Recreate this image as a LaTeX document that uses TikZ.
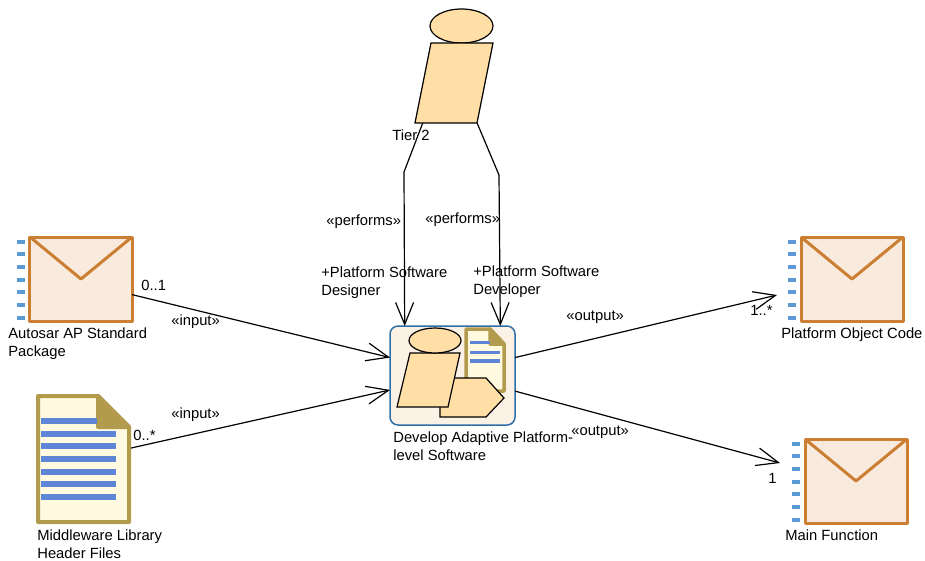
\documentclass[tikz,border=0pt]{standalone}
\usepackage{fontspec}
\setmainfont{Liberation Sans}
\usetikzlibrary{arrows.meta,shapes.geometric}
\definecolor{msgline}{HTML}{CC7F33}
\definecolor{msgfill}{HTML}{F8EADD}
\definecolor{dashblue}{HTML}{5B9BD5}
\definecolor{docline}{HTML}{B39B4E}
\definecolor{docfill}{HTML}{FFFAE0}
\definecolor{textblue}{HTML}{5F85D6}
\definecolor{actorfill}{HTML}{FFDFA6}
\definecolor{taskline}{HTML}{2F6FA8}
\definecolor{taskfill}{HTML}{FBF1E5}
\tikzset{
	lbl/.style={font=\fontsize{8.4}{10.2}\selectfont, inner sep=0pt, align=left, anchor=west},
	msgbox/.style={draw=msgline, fill=msgfill, line width=0.6mm, line join=round, minimum width=20.4mm, minimum height=16.8mm, inner sep=0pt, outer sep=0pt},
	actorpart/.style={draw=black, fill=actorfill, line width=0.24mm, inner sep=0pt, outer sep=0pt},
	flow/.style={line width=0.24mm, -{Straight Barb[length=4.4mm,width=3.6mm,line width=0.24mm]}},
	plainline/.style={line width=0.24mm},
}
\begin{document}
\begin{tikzpicture}[x=0.2mm,y=-0.2mm]
	\useasboundingbox (0,0) rectangle (925,560);

	% work products
	\foreach \nm/\cx/\cy/\dx in {autosar/81/279/17, object/852/279/788, mainfn/856/481/792}{
		\foreach \k in {-37,-25,-12,1,13,26,39}
			\draw[dashblue, line width=0.7mm] (\dx,\cy+\k) -- (\dx+8,\cy+\k);
		\node[msgbox] (\nm) at (\cx,\cy) {};
		\draw[msgline, line width=0.6mm, line join=round] (\nm.north west) -- (\nm.center) -- (\nm.north east);
	}

	% header files
	\node[minimum width=19mm, minimum height=26mm, inner sep=0pt, outer sep=0pt] (middleware) at (83.5,459) {};
	\draw[docline, fill=docfill, line width=0.8mm, line join=round] (38,396) -- (98,396) -- (129,427) -- (129,522) -- (38,522) -- cycle;
	\draw[docline, fill=docline, line width=0.8mm, line join=round] (98,396) -- (129,427) -- (98,427) -- cycle;
	\draw[textblue, line width=1.1mm] (41,421) -- (97,421);
	\foreach \y in {434,446,459,472,484,497}
		\draw[textblue, line width=1.1mm] (41,\y) -- (116,\y);

	% task
	\node[draw=taskline, fill=taskfill, line width=0.3mm, rounded corners=1.6mm, minimum width=25mm, minimum height=19.8mm, inner sep=0pt, outer sep=0pt] (task) at (452.5,375.5) {};
	\draw[docline, fill=docfill, line width=0.7mm, line join=round] (466,329) -- (490,329) -- (504,344) -- (504,391) -- (466,391) -- cycle;
	\draw[docline, fill=docline, line width=0.7mm, line join=round] (490,329) -- (504,344) -- (490,344) -- cycle;
	\draw[textblue, line width=0.6mm] (470,342) -- (490,342);
	\draw[textblue, line width=0.6mm] (470,352) -- (500,352);
	\draw[textblue, line width=0.8mm] (470,361) -- (500,361);
	\draw[actorpart] (440,378) -- (486,378) -- (504,398) -- (486,417) -- (440,417) -- cycle;
	\draw[actorpart] (410,353) -- (460,353) -- (448,407) -- (397,407) -- cycle;
	\node[actorpart, ellipse, minimum width=10.4mm, minimum height=5mm] (taskhead) at (435,340.5) {};

	% actor
	\node[actorpart, ellipse, minimum width=12.6mm, minimum height=6.8mm] (tierhead) at (461.5,26) {};
	\node[minimum width=15.6mm, minimum height=16mm, inner sep=0pt, outer sep=0pt] (tierbody) at (454,83) {};
	\draw[actorpart] (431,43) -- (493,43) -- (477,123) -- (415,123) -- cycle;

	\coordinate (leftbend) at (404,172);
	\coordinate (rightbend) at (499,175);
	\coordinate (objectin) at (777,295);
	\coordinate (mainin) at (780,463);

	\draw[plainline] (tierbody.232) -- (leftbend);
	\draw[plainline] (tierbody.-60) -- (rightbend);
	\draw[flow] (leftbend) -- (task.134.4);
	\draw[flow] (rightbend) -- (task.46.8);
	\draw[flow] (autosar.-17) -- (task.164.4);
	\draw[flow] (middleware.13) -- (task.193);
	\draw[flow] (task.16.5) -- (objectin);
	\draw[flow] (task.-14) -- (mainin);

	\node[lbl] (tierlabel) at (392,135) {Tier 2};
	\node[lbl] (perfa) at (326,222) {«performs»};
	\node[lbl] (perfb) at (425,220) {«performs»};
	\node[lbl] (designer) at (321,282.5) {+Platform Software\\Designer};
	\node[lbl] (developer) at (473,281.5) {+Platform Software\\Developer};
	\node[lbl] (autosarlabel) at (8,344) {Autosar AP Standard\\Package};
	\node[lbl] (middlewarelabel) at (37,544) {Middleware Library\\Header Files};
	\node[lbl] (tasklabel) at (393,446) {Develop Adaptive Platform-\\level Software};
	\node[lbl] (objectlabel) at (781,335) {Platform Object Code};
	\node[lbl] (mainlabel) at (785,535) {Main Function};
	\node[lbl] (inputa) at (171,322) {«input»};
	\node[lbl] (inputb) at (171,415) {«input»};
	\node[lbl] (outputa) at (566,317) {«output»};
	\node[lbl] (outputb) at (571,432) {«output»};
	\node[lbl] (multa) at (141,285) {0..1};
	\node[lbl] (multb) at (133,435) {0..*};
	\node[lbl] (multc) at (750,310) {1..*};
	\node[lbl] (multd) at (768,478) {1};
\end{tikzpicture}
\end{document}
